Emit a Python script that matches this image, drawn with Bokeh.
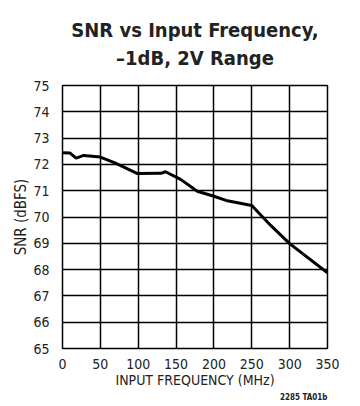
from bokeh.plotting import figure
from bokeh.models import Range1d, FixedTicker, Title
from bokeh.embed import file_html
from bokeh.resources import INLINE

# Data (MHz, dBFS)
freq_mhz = [0, 10, 18, 28, 50, 70, 99, 130, 136, 156, 178, 200, 216, 250, 275, 300, 350]
snr_dbfs = [72.44, 72.43, 72.24, 72.34, 72.28, 72.05, 71.65, 71.66, 71.72, 71.43, 70.98, 70.79, 70.63, 70.44, 69.68, 68.99, 67.88]

x_ticks = [0, 50, 100, 150, 200, 250, 300, 350]
y_ticks = [65, 66, 67, 68, 69, 70, 71, 72, 73, 74, 75]

title_lines = ["SNR vs Input Frequency,", "\u20131dB, 2V Range"]

COND = "DejaVu Sans Condensed"

p = figure(frame_width=265, frame_height=263, output_backend="svg", toolbar_location=None,
           x_range=Range1d(0, 350), y_range=Range1d(65, 75),
           min_border_left=62, min_border_right=25, min_border_bottom=0, min_border_top=0)

p.add_layout(Title(text="\n".join(title_lines), align="center", text_align="center",
                   text_font=COND, text_font_size="20px", text_font_style="bold",
                   text_color="#222222", text_line_height=1.15, standoff=31), "above")

# figure reference code, lower right
p.add_layout(Title(text="2285 TA01b", align="right", text_font=COND,
                   text_font_size="8px", text_font_style="bold", text_color="#222222",
                   standoff=0), "below")

p.line(freq_mhz, snr_dbfs, line_color="black", line_width=3)

p.xaxis.ticker = FixedTicker(ticks=x_ticks)
p.yaxis.ticker = FixedTicker(ticks=y_ticks)
for ax in (p.xaxis, p.yaxis):
    ax.major_tick_line_color = None
    ax.minor_tick_line_color = None
    ax.axis_line_color = None
    ax.major_label_text_font = COND
    ax.major_label_text_font_size = "14px"
    ax.major_label_text_color = "#222222"
    ax.axis_label_text_font = COND
    ax.axis_label_text_font_style = "normal"
    ax.axis_label_text_color = "#222222"
p.xaxis.axis_label_text_font_size = "14px"
p.yaxis.axis_label_text_font_size = "15px"
p.xaxis.axis_label = "INPUT FREQUENCY (MHz)"
p.yaxis.axis_label = "SNR (dBFS)"
p.xaxis.major_label_standoff = 4
p.yaxis.major_label_standoff = 7
p.xaxis.axis_label_standoff = 0
p.yaxis.axis_label_standoff = 0

p.xgrid.ticker = FixedTicker(ticks=x_ticks)
p.ygrid.ticker = FixedTicker(ticks=y_ticks)
p.grid.grid_line_color = "black"
p.grid.grid_line_width = 1.5
p.grid.grid_line_alpha = 1.0
p.outline_line_color = "black"
p.outline_line_width = 1.5
p.outline_line_alpha = 1.0

open("out.html", "w").write(file_html(p, INLINE))
